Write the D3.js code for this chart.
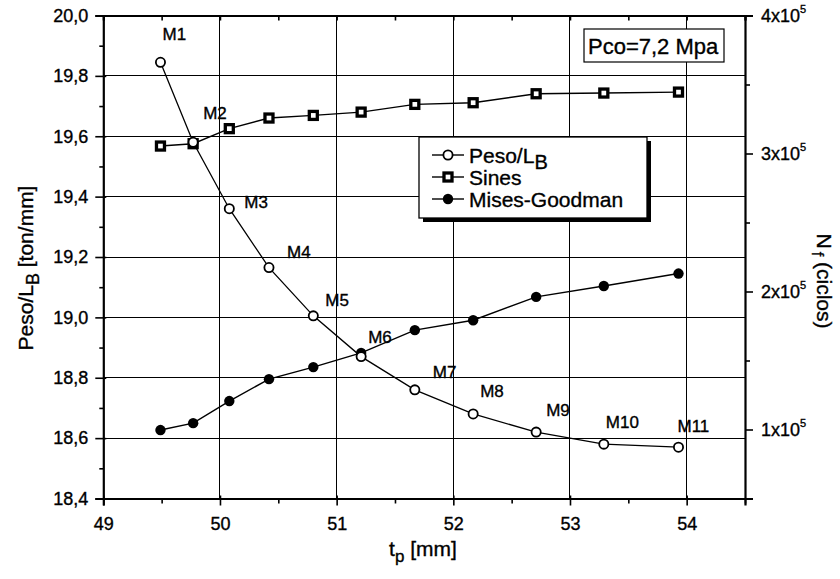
<!DOCTYPE html>
<html>
<head>
<meta charset="utf-8">
<script src="https://cdn.jsdelivr.net/npm/d3@7"></script>
<style>
  html, body { margin: 0; padding: 0; background: #fff; }
  svg { display: block; font-family: "Liberation Sans", Arial, Helvetica, sans-serif; }
  svg text { fill: #000; stroke: #000; stroke-width: 0.35px; }
</style>
</head>
<body>
<svg id="chart" width="840" height="579"></svg>
<script>
// Plate thickness t_p [mm] for designs M1..M11
const tp = [49.49, 49.77, 50.08, 50.42, 50.80, 51.21, 51.67, 52.17, 52.71, 53.29, 53.93];
const designs = ["M1", "M2", "M3", "M4", "M5", "M6", "M7", "M8", "M9", "M10", "M11"];
// Weight per unit length (left axis)
const pesoLB = [19.845, 19.58, 19.36, 19.165, 19.005, 18.87, 18.76, 18.68, 18.62, 18.58, 18.57];
// Fatigue life N_f (right axis)
const sines = [305400, 307100, 318000, 325700, 327600, 330000, 335600, 336800, 343300, 343800, 344500];
const misesGoodman = [99600, 104600, 120600, 136500, 145200, 155500, 172000, 179200, 196100, 204000, 213000];

const xTicks = [49, 50, 51, 52, 53, 54];
const xMinorTicks = [49.5, 50.5, 51.5, 52.5, 53.5, 54.5];
const yLeftTicks = [18.4, 18.6, 18.8, 19.0, 19.2, 19.4, 19.6, 19.8, 20.0];
const yLeftMinor = [18.5, 18.7, 18.9, 19.1, 19.3, 19.5, 19.7, 19.9];
const yRightTicks = [100000, 200000, 300000, 400000];
const yRightMinor = [150000, 250000, 350000];

// Label placement relative to each Peso/L_B point (pixels)
const labelOffsets = [[2, -22], [10, -23], [15, -1], [18, -10], [12, -10], [7, -14],
                      [18, -12], [7, -17], [10, -16], [2, -16], [-1, -15]];

const svg = d3.select("#chart");
const L = 103.3, R = 745, T = 15.5, B = 498.5;

const x = d3.scaleLinear().domain([49, 54.5]).range([L, R]);
const yL = d3.scaleLinear().domain([18.4, 20.0]).range([B, T]);
const yR = d3.scaleLinear().domain([50000, 400000]).range([B, T]);

svg.append("rect").attr("width", 840).attr("height", 579).attr("fill", "#fff");

// Grid
const grid = svg.append("g").attr("stroke", "#000").attr("stroke-width", 1).attr("shape-rendering", "crispEdges");
grid.selectAll("line.v").data(xTicks.filter(d => d > 49)).join("line")
  .attr("class", "v")
  .attr("x1", d => x(d)).attr("x2", d => x(d)).attr("y1", T).attr("y2", B);
grid.selectAll("line.h").data(yLeftTicks.filter(d => d > 18.4 && d < 20)).join("line")
  .attr("class", "h")
  .attr("x1", L).attr("x2", R).attr("y1", d => yL(d)).attr("y2", d => yL(d));

const fmtComma = d => d.toFixed(1).replace(".", ",");

// Bottom axis
const gx = svg.append("g").attr("transform", `translate(0,${B})`)
  .call(d3.axisBottom(x).tickValues(xTicks).tickFormat(d3.format("d")).tickSizeOuter(0).tickSize(7).tickPadding(12));
gx.selectAll(".tick line").attr("y1", -3);
svg.append("g").attr("transform", `translate(0,${B})`)
  .call(d3.axisBottom(x).tickValues(xMinorTicks).tickFormat("").tickSizeOuter(0).tickSize(5))
  .select(".domain").remove();

// Top axis (mirror, inward ticks)
svg.append("g").attr("transform", `translate(0,${T})`)
  .call(d3.axisBottom(x).tickValues(xMinorTicks.concat(xTicks)).tickFormat("").tickSizeOuter(0).tickSize(5));

// Left axis
const gyl = svg.append("g").attr("transform", `translate(${L},0)`)
  .call(d3.axisLeft(yL).tickValues(yLeftTicks).tickFormat(fmtComma).tickSizeOuter(0).tickSize(8).tickPadding(7));
gyl.selectAll(".tick line").attr("x1", 3);
svg.append("g").attr("transform", `translate(${L},0)`)
  .call(d3.axisLeft(yL).tickValues(yLeftMinor).tickFormat("").tickSizeOuter(0).tickSize(4))
  .select(".domain").remove();

// Right axis with powers of ten
const gyr = svg.append("g").attr("transform", `translate(${R},0)`)
  .call(d3.axisRight(yR).tickValues(yRightTicks).tickFormat("").tickSizeOuter(0).tickSize(8).tickPadding(8));
gyr.selectAll(".tick text").each(function(d) {
  const t = d3.select(this);
  t.append("tspan").attr("dy", "0.32em").text(`${d / 100000}x10`);
  t.append("tspan").attr("dy", -9).attr("font-size", 11).text("5");
});
svg.append("g").attr("transform", `translate(${R},0)`)
  .call(d3.axisRight(yR).tickValues(yRightMinor).tickFormat("").tickSizeOuter(0).tickSize(5))
  .select(".domain").remove();

svg.selectAll(".domain").attr("stroke", "#000").attr("stroke-width", 2.2);
svg.selectAll(".tick line").attr("stroke", "#000").attr("stroke-width", 1.6);
svg.selectAll(".tick text").attr("font-size", 18).attr("fill", "#000")
  .attr("font-family", "'Liberation Sans', Arial, sans-serif");
gyr.selectAll(".tick text").attr("dy", null);

// Axis titles
svg.append("text").attr("x", 423).attr("y", 556).attr("text-anchor", "middle").attr("font-size", 21)
  .call(t => {
    t.append("tspan").text("t");
    t.append("tspan").attr("dy", 6).attr("font-size", 17).text("p");
    t.append("tspan").attr("dy", -6).text(" [mm]");
  });

svg.append("text").attr("transform", "translate(33,268) rotate(-90)").attr("text-anchor", "middle").attr("font-size", 21)
  .call(t => {
    t.append("tspan").text("Peso/L");
    t.append("tspan").attr("dy", 6).attr("font-size", 18).text("B");
    t.append("tspan").attr("dy", -6).text(" [ton/mm]");
  });

svg.append("text").attr("transform", "translate(817,281) rotate(90)").attr("text-anchor", "middle").attr("font-size", 21)
  .call(t => {
    t.append("tspan").text("N");
    t.append("tspan").attr("dx", 3).attr("dy", 5).attr("font-size", 16).text("f");
    t.append("tspan").attr("dy", -5).text(" (ciclos)");
  });

// Series lines
const lineFor = (ys, yScale) => d3.line().x((d, i) => x(tp[i])).y(d => yScale(d))(ys);
svg.append("path").attr("d", lineFor(misesGoodman, yR)).attr("fill", "none").attr("stroke", "#000").attr("stroke-width", 1.4);
svg.append("path").attr("d", lineFor(sines, yR)).attr("fill", "none").attr("stroke", "#000").attr("stroke-width", 1.4);
svg.append("path").attr("d", lineFor(pesoLB, yL)).attr("fill", "none").attr("stroke", "#000").attr("stroke-width", 1.3);

// Markers
const drawSquare = (g, cx, cy) => g.append("rect").attr("x", cx - 4).attr("y", cy - 4).attr("width", 8).attr("height", 8)
  .attr("fill", "#fff").attr("stroke", "#000").attr("stroke-width", 3.3);
const drawOpen = (g, cx, cy) => g.append("circle").attr("cx", cx).attr("cy", cy).attr("r", 4.6)
  .attr("fill", "#fff").attr("stroke", "#000").attr("stroke-width", 1.8);
const drawFilled = (g, cx, cy) => g.append("circle").attr("cx", cx).attr("cy", cy).attr("r", 5.2)
  .attr("fill", "#000");

const marks = svg.append("g");
misesGoodman.forEach((v, i) => drawFilled(marks, x(tp[i]), yR(v)));
sines.forEach((v, i) => drawSquare(marks, x(tp[i]), yR(v)));
pesoLB.forEach((v, i) => drawOpen(marks, x(tp[i]), yL(v)));

// Design labels
svg.append("g").selectAll("text").data(designs).join("text")
  .attr("x", (d, i) => x(tp[i]) + labelOffsets[i][0])
  .attr("y", (d, i) => yL(pesoLB[i]) + labelOffsets[i][1])
  .attr("font-size", 17).text(d => d);

// Legend
const lg = svg.append("g");
lg.append("rect").attr("x", 423).attr("y", 141).attr("width", 228).attr("height", 81).attr("fill", "#000");
lg.append("rect").attr("x", 419).attr("y", 137).attr("width", 228).attr("height", 81)
  .attr("fill", "#fff").attr("stroke", "#000").attr("stroke-width", 1.3);
const legendRows = [
  { y: 155, draw: drawOpen },
  { y: 177, draw: drawSquare },
  { y: 199, draw: drawFilled }
];
legendRows.forEach(r => {
  lg.append("line").attr("x1", 432).attr("x2", 464).attr("y1", r.y).attr("y2", r.y).attr("stroke", "#000").attr("stroke-width", 1.4);
  r.draw(lg, 448, r.y);
});
lg.append("text").attr("x", 469).attr("y", 155 + 8).attr("font-size", 21)
  .call(t => {
    t.append("tspan").text("Peso/L");
    t.append("tspan").attr("dy", 6).attr("font-size", 20).text("B");
  });
lg.append("text").attr("x", 469).attr("y", 177 + 8).attr("font-size", 21).text("Sines");
lg.append("text").attr("x", 469).attr("y", 199 + 8).attr("font-size", 21).text("Mises-Goodman");

// Operating pressure note
svg.append("rect").attr("x", 584).attr("y", 29).attr("width", 140).attr("height", 33)
  .attr("fill", "#fff").attr("stroke", "#000").attr("stroke-width", 1.2);
svg.append("text").attr("x", 588).attr("y", 54).attr("font-size", 22).text("Pco=7,2 Mpa");
</script>
</body>
</html>
